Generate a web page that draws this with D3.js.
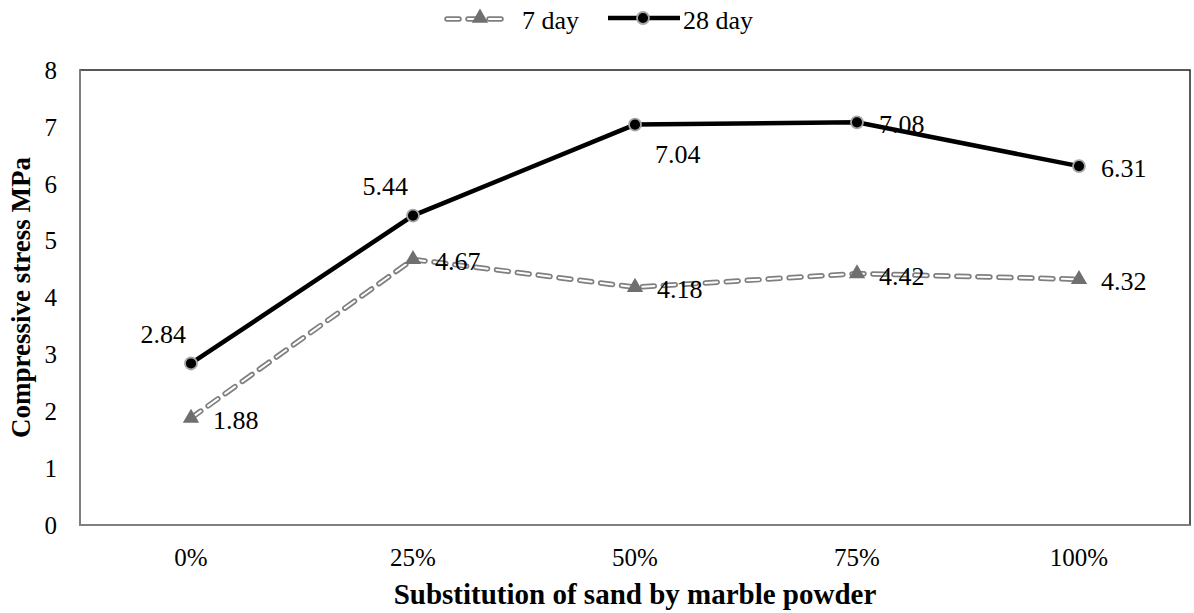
<!DOCTYPE html>
<html>
<head>
<meta charset="utf-8">
<script src="https://cdn.jsdelivr.net/npm/d3@7"></script>
<style>
  body { margin: 0; background: #fff; }
  svg text { font-family: "Times New Roman", "Liberation Serif", Tinos, "DejaVu Serif", serif; font-weight: 400; }
</style>
</head>
<body>
<svg id="chart" width="1194" height="613"></svg>
<script>
// data
var categories = ["0%", "25%", "50%", "75%", "100%"];
var day7 = [1.88, 4.67, 4.18, 4.42, 4.32];
var day28 = [2.84, 5.44, 7.04, 7.08, 6.31];
var yTicks = [0, 1, 2, 3, 4, 5, 6, 7, 8];

// where each data label sits around its point
var labelPos7 = ["right", "right", "right", "right", "right"];
var labelPos28 = ["aboveLeft", "aboveLeft", "belowRight", "right", "right"];

var svg = d3.select("#chart");
var plotLeft = 80, plotRight = 1190, plotTop = 70, plotBottom = 525;

var x = d3.scalePoint().domain(categories).range([plotLeft, plotRight]).padding(0.5);
var y = d3.scaleLinear().domain([0, 8]).range([plotBottom, plotTop]);

//--------------------------------- frame ---------------------------------//
svg.append("rect")
  .attr("x", plotLeft).attr("y", plotTop)
  .attr("width", plotRight - plotLeft).attr("height", plotBottom - plotTop)
  .attr("fill", "none").attr("stroke", "#222").attr("stroke-width", 1.5);
// axis lines are gray
svg.append("line").attr("x1", plotLeft).attr("x2", plotLeft).attr("y1", plotTop).attr("y2", plotBottom)
  .attr("stroke", "#8c8c8c").attr("stroke-width", 1.5);
svg.append("line").attr("x1", plotLeft).attr("x2", plotRight).attr("y1", plotBottom).attr("y2", plotBottom)
  .attr("stroke", "#8c8c8c").attr("stroke-width", 1.5);

// y tick labels
svg.selectAll(".ytick").data(yTicks).enter().append("text")
  .attr("x", 57).attr("y", function(d){ return y(d); })
  .attr("dy", "0.35em").attr("text-anchor", "end")
  .style("font-size", "25px").text(function(d){ return d; });

// x tick labels
svg.selectAll(".xtick").data(categories).enter().append("text")
  .attr("x", function(d){ return x(d); }).attr("y", 566)
  .attr("text-anchor", "middle")
  .style("font-size", "25px").text(function(d){ return d; });

// axis titles
svg.append("text").attr("x", 635).attr("y", 604).attr("text-anchor", "middle")
  .style("font-size", "29px").style("font-weight", "bold")
  .text("Substitution of sand by marble powder");
svg.append("text").attr("transform", "translate(30," + ((plotTop + plotBottom) / 2) + ") rotate(-90)")
  .attr("text-anchor", "middle")
  .style("font-size", "27px").style("font-weight", "bold")
  .text("Compressive stress MPa");

//--------------------------------- lines ---------------------------------//
var line = d3.line()
  .x(function(d, i){ return x(categories[i]); })
  .y(function(d){ return y(d); });

// 7 day: dashed, gray outline with white core
svg.append("path").datum(day7).attr("d", line)
  .attr("fill", "none").attr("stroke", "#7f7f7f").attr("stroke-width", 5.5)
  .attr("stroke-dasharray", "12,9").attr("stroke-linecap", "round");
svg.append("path").datum(day7).attr("d", line)
  .attr("fill", "none").attr("stroke", "#fff").attr("stroke-width", 2)
  .attr("stroke-dasharray", "12,9").attr("stroke-linecap", "round");

// 28 day: thick black
svg.append("path").datum(day28).attr("d", line)
  .attr("fill", "none").attr("stroke", "#000").attr("stroke-width", 4.5);

// markers
var tri = d3.symbol().type(d3.symbolTriangle).size(115);
svg.selectAll(".m7").data(day7).enter().append("path")
  .attr("d", tri)
  .attr("transform", function(d, i){ return "translate(" + x(categories[i]) + "," + y(d) + ")"; })
  .attr("fill", "#6f6f6f");

svg.selectAll(".m28").data(day28).enter().append("circle")
  .attr("cx", function(d, i){ return x(categories[i]); })
  .attr("cy", function(d){ return y(d); })
  .attr("r", 6)
  .attr("fill", "#000").attr("stroke", "#a6a6a6").attr("stroke-width", 1.8);

//--------------------------------- data labels ---------------------------------//
function placeLabel(pos) {
  if (pos == "right") return { dx: 22, dy: 2, anchor: "start" };
  if (pos == "aboveLeft") return { dx: -5, dy: -30, anchor: "end" };
  if (pos == "belowRight") return { dx: 20, dy: 29, anchor: "start" };
  return { dx: 0, dy: -20, anchor: "middle" };
}
function drawLabels(values, positions) {
  svg.selectAll(null).data(values).enter().append("text")
    .each(function(d, i) {
      var p = placeLabel(positions[i]);
      d3.select(this)
        .attr("x", x(categories[i]) + p.dx)
        .attr("y", y(d) + p.dy)
        .attr("dy", "0.35em")
        .attr("text-anchor", p.anchor);
    })
    .style("font-size", "26px")
    .text(function(d){ return d.toFixed(2); });
}
drawLabels(day7, labelPos7);
drawLabels(day28, labelPos28);

//--------------------------------- legend ---------------------------------//
var lg = svg.append("g");
// 7 day entry
lg.append("line").attr("x1", 447).attr("x2", 510).attr("y1", 19).attr("y2", 19)
  .attr("stroke", "#7f7f7f").attr("stroke-width", 5.5).attr("stroke-dasharray", "12,9")
  .attr("stroke-linecap", "round");
lg.append("line").attr("x1", 447).attr("x2", 510).attr("y1", 19).attr("y2", 19)
  .attr("stroke", "#fff").attr("stroke-width", 2).attr("stroke-dasharray", "12,9")
  .attr("stroke-linecap", "round");
lg.append("path").attr("d", tri).attr("transform", "translate(480,18)").attr("fill", "#6f6f6f");
lg.append("text").attr("x", 522).attr("y", 29)
  .style("font-size", "26px").text("7 day");
// 28 day entry
lg.append("line").attr("x1", 608).attr("x2", 680).attr("y1", 18).attr("y2", 18)
  .attr("stroke", "#000").attr("stroke-width", 4.5);
lg.append("circle").attr("cx", 643).attr("cy", 18).attr("r", 6)
  .attr("fill", "#000").attr("stroke", "#a6a6a6").attr("stroke-width", 1.8);
lg.append("text").attr("x", 683).attr("y", 29)
  .style("font-size", "26px").text("28 day");
</script>
</body>
</html>
